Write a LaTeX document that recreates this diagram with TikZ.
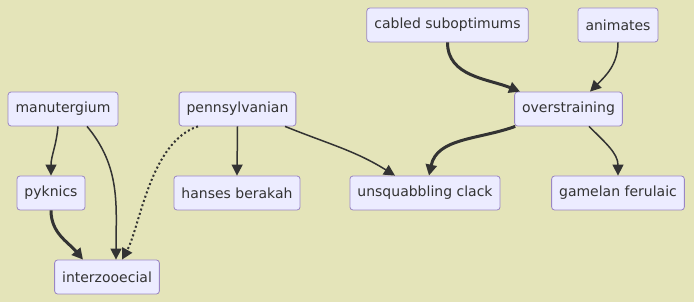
\documentclass[tikz,border=0pt]{standalone}
\usepackage{fontspec}
\setmainfont{DejaVu Sans}
\usetikzlibrary{arrows.meta, backgrounds}
\definecolor{bgcol}{HTML}{E4E4B9}
\definecolor{nodefill}{HTML}{ECECFF}
\definecolor{nodeline}{HTML}{9A86C4}
\definecolor{edgecol}{HTML}{333333}

\begin{document}
\begin{tikzpicture}[x=1pt, y=1pt,
  box/.style={draw=nodeline, fill=nodefill, rounded corners=3pt, line width=0.8pt,
    minimum height=34pt, inner xsep=7.5pt, text=edgecol,
    font=\fontsize{14}{16}\selectfont},
  conn/.style={-{Triangle[length=11pt, width=11pt]}, draw=edgecol, line width=1.5pt},
  thick conn/.style={conn, line width=3pt},
  dot conn/.style={conn, line width=2pt, dash pattern=on 2pt off 2.5pt},
]

% canvas
\fill[bgcol] (0,0) rectangle (694,302);
\useasboundingbox (0,0) rectangle (694,302);

% top row
\node[box] (cabled) at (447.5,277) {cabled suboptimums};
\node[box] (animates) at (618,277) {animates};

% middle row
\node[box] (manut) at (63,193) {manutergium};
\node[box] (penn) at (237.5,193) {pennsylvanian};
\node[box] (overstr) at (568.5,193) {overstraining};

% lower row
\node[box] (pyknics) at (51,109) {pyknics};
\node[box] (hanses) at (237,109) {hanses berakah};
\node[box] (unsq) at (425,109) {unsquabbling clack};
\node[box] (gamelan) at (618,109) {gamelan ferulaic};

% bottom
\node[box] (interz) at (107,25) {interzooecial};

% manutergium branch
\draw[conn] ([xshift=-5pt]manut.south) to[out=-95, in=90] (pyknics.north);
\draw[conn] ([xshift=24pt]manut.south) to[out=-50, in=90] ([xshift=9pt]interz.north);
\draw[thick conn] (pyknics.south) to[out=-90, in=130] ([xshift=-24pt]interz.north);

% pennsylvanian branch
\draw[dot conn] ([xshift=-39.5pt]penn.south) .. controls (150,160) and (140,75) .. ([xshift=15pt]interz.north);
\draw[conn] (penn.south) -- (hanses.north);
\draw[conn] ([xshift=47.5pt]penn.south) to[out=-22, in=148] ([xshift=-30pt]unsq.north);

% into and out of overstraining
\draw[thick conn] (cabled.south) to[out=-90, in=158] ([xshift=-48.5pt]overstr.north);
\draw[conn] (animates.south) to[out=-90, in=45] ([xshift=21.5pt]overstr.north);
\draw[thick conn] ([xshift=1pt]overstr.south west) to[out=200, in=78] ([xshift=4pt]unsq.north);
\draw[conn] ([xshift=20.5pt]overstr.south) to[out=-45, in=90] (gamelan.north);

\end{tikzpicture}
\end{document}
